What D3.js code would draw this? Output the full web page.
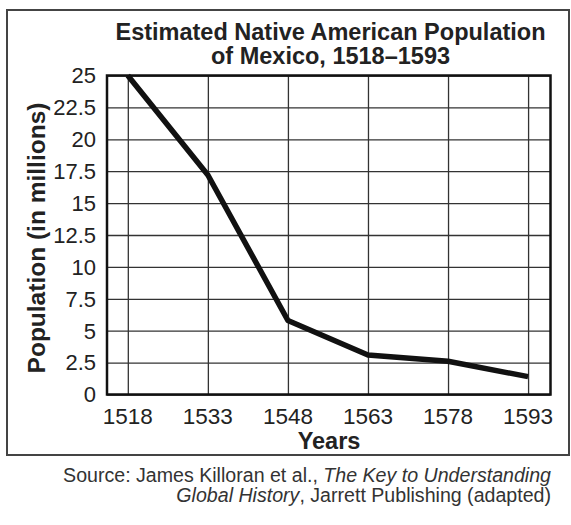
<!DOCTYPE html>
<html>
<head>
<meta charset="utf-8">
<script src="https://cdn.jsdelivr.net/npm/d3@7"></script>
<style>
  body { margin: 0; background: #fff; }
  text { font-family: "Liberation Sans", Arial, Helvetica, sans-serif; fill: #222; }
</style>
</head>
<body>
<script>
// data
var years = [1518, 1533, 1548, 1563, 1578, 1593];
var population = [25, 17.2, 5.8, 3.1, 2.6, 1.4];
var yTicks = [0, 2.5, 5, 7.5, 10, 12.5, 15, 17.5, 20, 22.5, 25];
var yTickLabels = ["0", "2.5", "5", "7.5", "10", "12.5", "15", "17.5", "20", "22.5", "25"];

var globalSetting = {
	WIDTH: 571,
	HEIGHT: 525,
	LEFT: 107,
	RIGHT: 550.5,
	TOP: 75.5,
	BOTTOM: 394.5
};

var svg = d3.select("body").append("svg")
            .attr("width", globalSetting.WIDTH)
            .attr("height", globalSetting.HEIGHT);

// outer frame
svg.append("rect")
   .attr("x", 7).attr("y", 10)
   .attr("width", 562).attr("height", 445)
   .attr("fill", "none").attr("stroke", "#444").attr("stroke-width", 2);

var x = d3.scaleLinear().domain([1514.1, 1597.2])
          .range([globalSetting.LEFT, globalSetting.RIGHT]);
var y = d3.scaleLinear().domain([0, 25])
          .range([globalSetting.BOTTOM, globalSetting.TOP]);

// grid
svg.append("g").attr("class", "grid-x")
   .attr("transform", "translate(0," + globalSetting.BOTTOM + ")")
   .call(d3.axisBottom(x).tickValues(years)
           .tickSize(-(globalSetting.BOTTOM - globalSetting.TOP))
           .tickFormat(""))
   .call(function(g) { g.select(".domain").remove(); })
   .selectAll("line").attr("stroke", "#333").attr("stroke-width", 1.3);

svg.append("g").attr("class", "grid-y")
   .attr("transform", "translate(" + globalSetting.LEFT + ",0)")
   .call(d3.axisLeft(y).tickValues(yTicks)
           .tickSize(-(globalSetting.RIGHT - globalSetting.LEFT))
           .tickFormat(""))
   .call(function(g) { g.select(".domain").remove(); })
   .selectAll("line").attr("stroke", "#333").attr("stroke-width", 1.3);

// plot border
svg.append("rect")
   .attr("x", globalSetting.LEFT).attr("y", globalSetting.TOP)
   .attr("width", globalSetting.RIGHT - globalSetting.LEFT)
   .attr("height", globalSetting.BOTTOM - globalSetting.TOP)
   .attr("fill", "none").attr("stroke", "#111").attr("stroke-width", 2.5);

// tick labels
svg.append("g").selectAll("text").data(years).enter().append("text")
   .attr("x", function(d) { return x(d); })
   .attr("y", 424)
   .attr("text-anchor", "middle")
   .style("font-size", "22.5px")
   .text(function(d) { return d; });

svg.append("g").selectAll("text").data(yTicks).enter().append("text")
   .attr("x", 96)
   .attr("y", function(d) { return y(d) + 7.8; })
   .attr("text-anchor", "end")
   .style("font-size", "22px")
   .text(function(d, i) { return yTickLabels[i]; });

// the population line
var line = d3.line()
             .x(function(d, i) { return x(years[i]); })
             .y(function(d) { return y(d); });

svg.append("path").datum(population)
   .attr("d", line)
   .attr("fill", "none")
   .attr("stroke", "#111")
   .attr("stroke-width", 5.5)
   .attr("stroke-linejoin", "round");

// titles
svg.append("text")
   .attr("x", 330.5).attr("y", 39.5)
   .attr("text-anchor", "middle")
   .style("font-size", "23.5px").style("font-weight", "bold")
   .text("Estimated Native American Population");
svg.append("text")
   .attr("x", 330.5).attr("y", 64)
   .attr("text-anchor", "middle")
   .style("font-size", "23.5px").style("font-weight", "bold")
   .text("of Mexico, 1518\u20131593");

svg.append("text")
   .attr("x", 329).attr("y", 448.5)
   .attr("text-anchor", "middle")
   .style("font-size", "23.5px").style("font-weight", "bold")
   .text("Years");

svg.append("text")
   .attr("transform", "translate(45,238) rotate(-90)")
   .attr("text-anchor", "middle")
   .style("font-size", "24.5px").style("font-weight", "bold")
   .text("Population (in millions)");

// source note
var src1 = svg.append("text")
   .attr("x", 551).attr("y", 481.5)
   .attr("text-anchor", "end")
   .style("font-size", "19.6px").style("fill", "#333");
src1.append("tspan").text("Source: James Killoran et al., ");
src1.append("tspan").style("font-style", "italic").text("The Key to Understanding");

var src2 = svg.append("text")
   .attr("x", 551).attr("y", 501.5)
   .attr("text-anchor", "end")
   .style("font-size", "19.6px").style("fill", "#333");
src2.append("tspan").style("font-style", "italic").text("Global History");
src2.append("tspan").text(", Jarrett Publishing (adapted)");
</script>
</body>
</html>
